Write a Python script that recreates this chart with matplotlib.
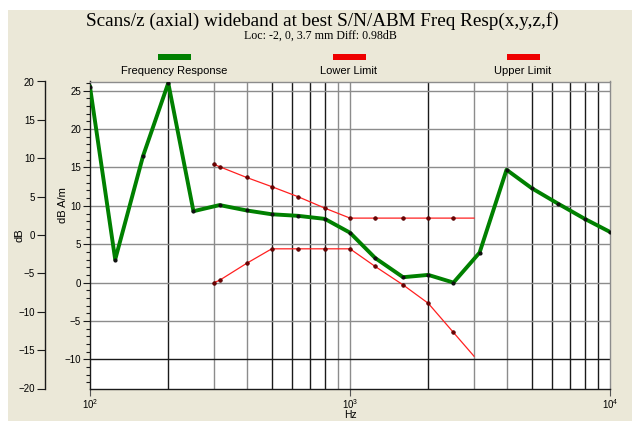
import matplotlib
matplotlib.use("Agg")
import matplotlib.pyplot as plt
from matplotlib.patches import Rectangle
from matplotlib.ticker import MultipleLocator, FixedLocator, NullLocator
import numpy as np

plt.rcParams['font.family'] = ['Liberation Sans', 'DejaVu Sans']
plt.rcParams['mathtext.fontset'] = 'custom'
plt.rcParams['mathtext.rm'] = 'Liberation Sans'
plt.rcParams['mathtext.it'] = 'Liberation Sans'
plt.rcParams['mathtext.bf'] = 'Liberation Sans'

# ---- data ----
freq = [100, 125, 160, 200, 250, 315, 400, 500, 630, 800, 1000, 1250, 1600,
        2000, 2500, 3150, 4000, 5000, 6300, 8000, 10000]
response = [25.5, 3.0, 16.5, 26.0, 9.3, 10.1, 9.4, 8.9, 8.7, 8.3, 6.5, 3.2, 0.7,
            1.0, 0.0, 3.9, 14.7, 12.3, 10.3, 8.3, 6.6]
lim_freq = [300, 315, 400, 500, 630, 800, 1000, 1250, 1600, 2000, 2500, 3000]
upper_limit = [15.4, 15.1, 13.7, 12.5, 11.2, 9.7, 8.4, 8.4, 8.4, 8.4, 8.4, 8.4]
lower_limit = [0.0, 0.3, 2.5, 4.4, 4.4, 4.4, 4.4, 2.1, -0.3, -2.7, -6.5, -9.6]

title = "Scans/z (axial) wideband at best S/N/ABM Freq Resp(x,y,z,f)"
subtitle = "Loc: -2, 0, 3.7 mm Diff: 0.98dB"
legend_labels = ["Frequency Response", "Lower Limit", "Upper Limit"]
outer_ticks = [-20, -15, -10, -5, 0, 5, 10, 15, 20]
offset_db = 6.2  # dB A/m minus dB

W, H = 638, 421
fig = plt.figure(figsize=(W / 100, H / 100), dpi=100)
fig.patch.set_facecolor('white')
fig.patches.append(Rectangle((8 / W, 0), (632 - 8) / W, 1 - 10 / H,
                             transform=fig.transFigure, facecolor='#ebe8d8',
                             edgecolor='none', zorder=-10))

L, R, T, B = 90, 610, 81.5, 388.5
ax = fig.add_axes([L / W, 1 - B / H, (R - L) / W, (B - T) / H])
ax.set_facecolor('white')
ax.set_xscale('log')
ax.set_xlim(100, 10000)
ax.set_ylim(-13.8, 26.2)

# grid
dark_v = {200, 500, 600, 700, 800, 2000, 5000, 6000, 7000, 8000, 9000}
for dec in (100, 1000):
    for m in range(2, 10):
        f = dec * m
        c = '#1a1a1a' if f in dark_v else '#8c8c8c'
        ax.axvline(f, color=c, lw=1.0, zorder=1)
ax.axvline(1000, color='#8c8c8c', lw=1.0, zorder=1)
for yv in range(-10, 26, 5):
    c = '#1a1a1a' if yv == -10 else '#8c8c8c'
    ax.axhline(yv, color=c, lw=1.0, zorder=1)

red = '#ff2020'
for vals in (upper_limit, lower_limit):
    ax.plot(lim_freq, vals, color=red, lw=0.9, zorder=3,
            marker='o', ms=2.6, mfc='#700000', mec='#500000', mew=0.5,
            markevery=list(range(len(lim_freq) - 1)))
ax.plot(freq, response, color='#008000', lw=2.8, zorder=4, solid_joinstyle='round',
        marker='o', ms=2.0, mfc='#101010', mec='#101010')

# spines
for s in ('top', 'right'):
    ax.spines[s].set_color('#8c8c8c')
for s in ('left', 'bottom'):
    ax.spines[s].set_color('#1a1a1a')
for s in ax.spines.values():
    s.set_linewidth(1.0)

# y ticks (inner, dB A/m)
ax.yaxis.set_major_locator(MultipleLocator(5))
ax.yaxis.set_minor_locator(MultipleLocator(1))
ax.tick_params(axis='y', which='major', length=5, width=0.8, labelsize=7,
               pad=1.5, color='#1a1a1a')
ax.tick_params(axis='y', which='minor', length=3, width=0.8, color='#1a1a1a')

# x ticks
ax.xaxis.set_major_locator(FixedLocator([100, 1000, 10000]))
ax.xaxis.set_minor_locator(NullLocator())
ax.set_xticklabels(['10$^2$', '10$^3$', '10$^4$'])
ax.tick_params(axis='x', which='major', length=5, width=0.8, labelsize=7,
               pad=1, color='#555555')

# outer dB axis
sec = ax.secondary_yaxis(-(L - 45) / (R - L),
                         functions=(lambda y: y - offset_db, lambda y: y + offset_db))
sec.yaxis.set_major_locator(FixedLocator(outer_ticks))
sec.yaxis.set_minor_locator(NullLocator())
sec.tick_params(axis='y', length=6, width=0.8, labelsize=7, pad=1.5, color='#1a1a1a')
sec.spines['left'].set_color('#1a1a1a')
sec.spines['left'].set_linewidth(1.0)

# texts
fig.text(322 / W, 1 - 21.5 / H, title, ha='center', va='center',
         fontsize=13.8, family='Liberation Serif')
fig.text(320 / W, 1 - 35.5 / H, subtitle, ha='center', va='center',
         fontsize=8.6, family='Liberation Serif')
fig.text(20 / W, 1 - 235 / H, 'dB', rotation=90, ha='center', va='center', fontsize=8)
fig.text(63 / W, 1 - 205 / H, 'dB A/m', rotation=90, ha='center', va='center', fontsize=8)
fig.text(350 / W, 1 - 414.5 / H, 'Hz', ha='center', va='center', fontsize=7.5)

# legend (drawn manually above the plot)
leg_x = [174.5, 349, 523]
leg_colors = ['#008000', '#ee0000', '#ee0000']
for xc, lab, col in zip(leg_x, legend_labels, leg_colors):
    fig.patches.append(Rectangle(((xc - 16.5) / W, 1 - 59.5 / H), 33 / W, 5 / H,
                                 transform=fig.transFigure, facecolor=col,
                                 edgecolor='none'))
    fig.text(xc / W, 1 - 71.5 / H, lab, ha='center', va='center', fontsize=8)

fig.savefig('out.png', dpi=100, facecolor=fig.get_facecolor())
